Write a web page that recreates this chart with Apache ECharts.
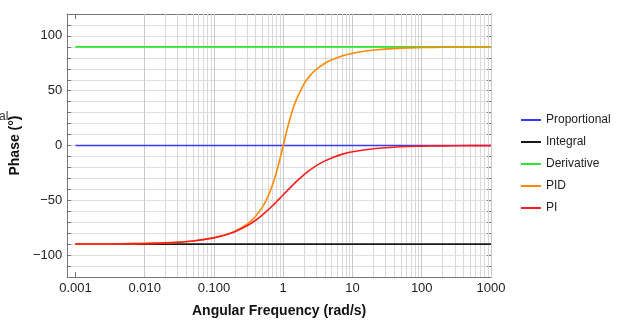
<!DOCTYPE html>
<html>
<head>
<meta charset="utf-8">
<script src="https://cdn.jsdelivr.net/npm/echarts@6/dist/echarts.min.js"></script>
<style>
  html, body { margin: 0; padding: 0; background: #fff; }
  #chart { width: 620px; height: 323px; }
</style>
</head>
<body>
<div id="chart"></div>
<script>
// frequencies (rad/s) where the curves were read
const freq = [0.001, 0.002, 0.005, 0.01, 0.02, 0.05, 0.1, 0.15, 0.2, 0.3, 0.4, 0.5, 0.6, 0.7, 0.8, 0.9,
  1, 1.1, 1.25, 1.5, 2, 2.5, 3, 4, 5, 7, 10, 20, 50, 100, 200, 500, 1000];
// phase in degrees
const piPhase = [-89.9, -89.9, -89.7, -89.4, -88.9, -87.1, -84.3, -81.5, -78.7, -73.3, -68.2, -63.4, -59.0, -55.0, -51.3, -48.0,
  -45, -42.3, -38.7, -33.7, -26.6, -21.8, -18.4, -14.0, -11.3, -8.1, -5.7, -2.9, -1.1, -0.6, -0.3, -0.1, -0.1];
const pidPhase = [-89.9, -89.9, -89.7, -89.4, -88.9, -87.1, -84.2, -81.3, -78.2, -71.8, -64.5, -56.3, -46.9, -36.1, -24.2, -11.9,
  0, 10.8, 24.2, 39.8, 56.3, 64.5, 69.4, 75.1, 78.2, 81.7, 84.2, 87.1, 88.9, 89.4, 89.7, 89.9, 89.9];
// flat responses
const flatFreq = [0.001, 1000];
const propPhase = [0, 0];
const intPhase = [-90, -90];
const derivPhase = [90, 90];

const seriesNames = ['Proportional', 'Integral', 'Derivative', 'PID', 'PI'];
const seriesColors = ['#3a3af2', '#1a1a1a', '#2ee62e', '#ff8a0a', '#ff1c1c'];

// x tick labels (Mathematica style)
const decades = [0.001, 0.01, 0.1, 1, 10, 100, 1000];
const decadeLabels = ['0.001', '0.010', '0.100', '1', '10', '100', '1000'];
const minorMult = [2, 3, 4, 5, 6, 7, 8, 9];

const pair = (xs, ys) => xs.map((x, i) => [x, ys[i]]);

// vertical grid lines at every 1..9 x decade
const minorLines = [];
decades.slice(0, -1).forEach(d => minorMult.forEach(m => minorLines.push({ xAxis: d * m })));
const decadeLines = decades.map(d => ({ xAxis: d }));

const font = 'Liberation Sans, Arial, sans-serif';
const frame = '#777';

function xLabel(v) {
  const e = Math.log10(v);
  if (Math.abs(e - Math.round(e)) > 1e-6) return '';
  const i = decades.findIndex(d => Math.abs(Math.log10(d) - e) < 1e-6);
  return i >= 0 ? decadeLabels[i] : '';
}
function yLabel(v) {
  if (v % 50 !== 0) return '';
  return v < 0 ? '\u2212' + Math.abs(v) : String(v);
}

const xCommon = {
  type: 'log', logBase: 10, min: 0.00076, max: 1000,
  axisLine: { show: true, onZero: false, lineStyle: { color: frame, width: 1 } },
  axisTick: { show: true, inside: true, length: 5, lineStyle: { color: frame } },
  splitLine: { show: false }
};
const yCommon = {
  type: 'value', min: -120, max: 120, interval: 10,
  axisLine: { show: true, onZero: false, lineStyle: { color: frame, width: 1 } },
  axisTick: { show: true, inside: true, length: 4, lineStyle: { color: frame } }
};

const chart = echarts.init(document.getElementById('chart'), null, { renderer: 'canvas' });

const lines = [
  pair(flatFreq, propPhase),
  pair(flatFreq, intPhase),
  pair(flatFreq, derivPhase),
  pair(freq, pidPhase),
  pair(freq, piPhase)
];

const gridSeries = (data, color) => ({
  type: 'line', data: [], silent: true,
  markLine: {
    silent: true, symbol: 'none', label: { show: false },
    lineStyle: { color: color, width: 1, type: 'solid' },
    emphasis: { disabled: true },
    data: data
  }
});

chart.setOption({
  animation: false,
  textStyle: { fontFamily: font },
  grid: { left: 67, right: 129, top: 14, bottom: 45 },
  legend: {
    orient: 'vertical', left: 516, top: 109, itemGap: 10,
    itemWidth: 20, itemHeight: 10, icon: 'path://M0,4 L20,4 L20,6 L0,6 Z',
    textStyle: { fontFamily: font, fontSize: 12, color: '#222' },
    data: seriesNames
  },
  xAxis: [
    Object.assign({}, xCommon, {
      position: 'bottom',
      name: 'Angular Frequency (rad/s)', nameLocation: 'middle', nameGap: 27,
      nameTextStyle: { fontFamily: font, fontSize: 14, fontWeight: 'bold', color: '#111' },
      axisLabel: { formatter: xLabel, fontFamily: font, fontSize: 13, color: '#222', margin: 5, showMinLabel: false }
    }),
    Object.assign({}, xCommon, { position: 'top', axisLabel: { show: false } })
  ],
  yAxis: [
    Object.assign({}, yCommon, {
      position: 'left',
      name: 'Phase (°)', nameLocation: 'middle', nameGap: 34, nameRotate: 90,
      nameTextStyle: { fontFamily: font, fontSize: 14, fontWeight: 'bold', color: '#111' },
      axisLabel: { formatter: yLabel, fontFamily: font, fontSize: 13, color: '#222', margin: 5 },
      splitLine: { show: true, lineStyle: { color: '#dedede', width: 1 } }
    }),
    Object.assign({}, yCommon, {
      position: 'right', axisLabel: { show: false }, splitLine: { show: false }
    })
  ],
  graphic: [{
    type: 'text', left: -1, top: 111,
    style: { text: 'al', font: '12px ' + font, fill: '#333' }
  }],
  series: [
    gridSeries(minorLines, '#d9d9d9'),
    gridSeries(decadeLines, '#c8c8c8')
  ].concat(seriesNames.map((n, i) => ({
    name: n, type: 'line', data: lines[i], zlevel: 1,
    smooth: i >= 3 ? 0.35 : false,
    showSymbol: false, symbol: 'none',
    lineStyle: { color: seriesColors[i], width: 1.6 },
    itemStyle: { color: seriesColors[i] },
    emphasis: { disabled: true }
  })))
});
</script>
</body>
</html>
